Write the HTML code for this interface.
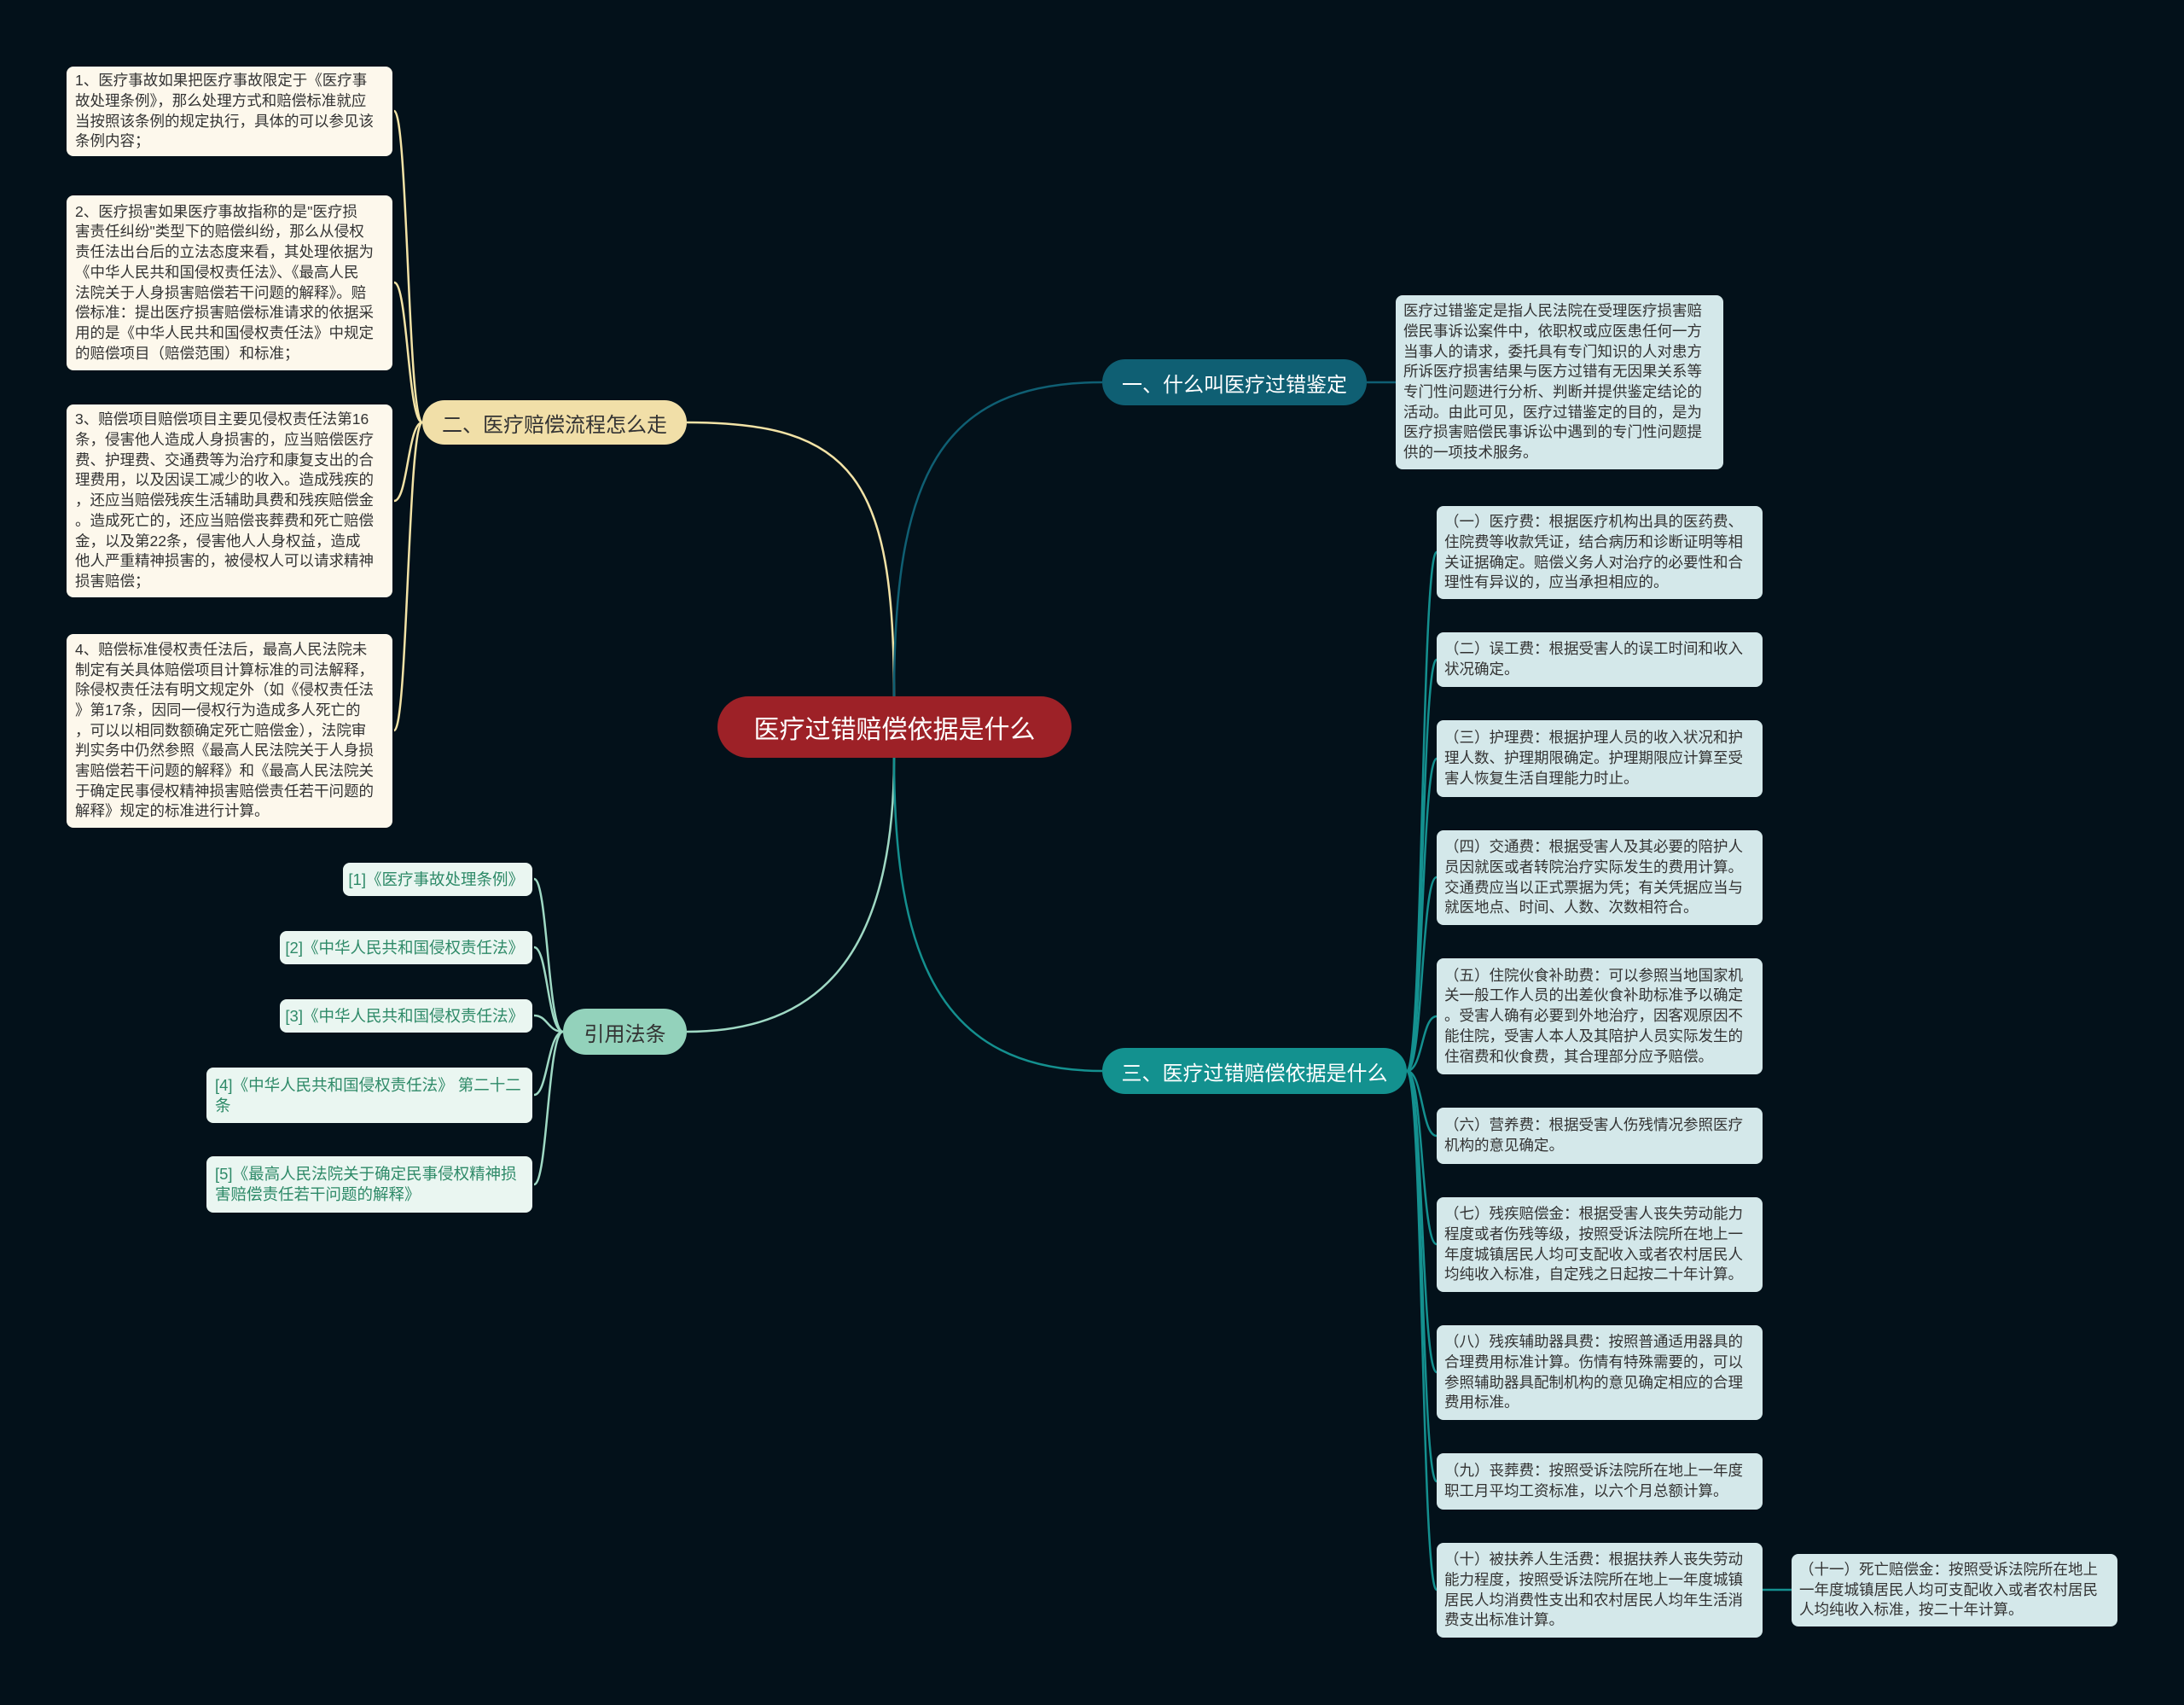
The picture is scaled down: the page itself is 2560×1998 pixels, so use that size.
<!DOCTYPE html>
<html><head><meta charset="utf-8">
<style>
html,body{margin:0;padding:0;}
body{width:2560px;height:1998px;background:#03111a;position:relative;overflow:hidden;font-family:"Liberation Sans","Noto Sans CJK SC",sans-serif;}
svg{position:absolute;left:0;top:0;}
.b{position:absolute;box-sizing:border-box;border-radius:8px;display:flex;flex-direction:column;justify-content:center;font-size:17.5px;line-height:23.7px;white-space:nowrap;overflow:hidden;}
.l{background:#fdf8ec;color:#333;padding:0 10px;}
.r{background:#d4e8ea;color:#333;padding:0 9px;}
.ref{background:#eaf6f1;color:#2e8a68;padding:0 10px;font-size:18.5px;align-items:flex-end;text-align:left;}
.ref.w{align-items:flex-start;}
.n{position:absolute;box-sizing:border-box;border-radius:30px;display:flex;align-items:center;justify-content:center;white-space:nowrap;}
</style></head><body>
<svg width="2560" height="1998">
<g fill="none" stroke-width="2.5">
<path d="M1048 816 C1048 560 1000 495 805 495" stroke="#f3e3a6"/>
<path d="M1048 816 C1048 560 1100 448 1292 448" stroke="#0f5f73"/>
<path d="M1048 888 C1048 1120 960 1209 805 1209" stroke="#9fd9c4"/>
<path d="M1048 888 C1048 1120 1100 1255 1292 1255" stroke="#14908f"/>
<path d="M1602 448 L1636 448" stroke="#0f5f73"/>
<g stroke="#f3e3a6">
<path d="M495 495 C478 495 478 130 462 130"/>
<path d="M495 495 C478 495 478 331 462 331"/>
<path d="M495 495 C478 495 478 587 462 587"/>
<path d="M495 495 C478 495 478 856 462 856"/>
</g>
<g stroke="#9fd9c4">
<path d="M660 1209 C642 1209 642 1030 626 1030"/>
<path d="M660 1209 C642 1209 642 1110 626 1110"/>
<path d="M660 1209 C642 1209 642 1190 626 1190"/>
<path d="M660 1209 C642 1209 642 1283 626 1283"/>
<path d="M660 1209 C642 1209 642 1388 626 1388"/>
</g>
<g stroke="#14908f">
<path d="M1649 1255 C1668 1255 1666 647 1684 647"/>
<path d="M1649 1255 C1668 1255 1666 773 1684 773"/>
<path d="M1649 1255 C1668 1255 1666 889 1684 889"/>
<path d="M1649 1255 C1668 1255 1666 1028 1684 1028"/>
<path d="M1649 1255 C1668 1255 1666 1191 1684 1191"/>
<path d="M1649 1255 C1668 1255 1666 1331 1684 1331"/>
<path d="M1649 1255 C1668 1255 1666 1458 1684 1458"/>
<path d="M1649 1255 C1668 1255 1666 1608 1684 1608"/>
<path d="M1649 1255 C1668 1255 1666 1736 1684 1736"/>
<path d="M1649 1255 C1668 1255 1666 1863 1684 1863"/>
<path d="M2066 1863 L2100 1863"/>
</g>
</g>
</svg>

<div class="n" style="left:841px;top:816px;width:415px;height:72px;background:#9d2127;color:#fff;font-size:30px;border-radius:36px;">医疗过错赔偿依据是什么</div>
<div class="n" style="left:1292px;top:421px;width:310px;height:54px;background:#0f5f73;color:#fff;font-size:24px;">一、什么叫医疗过错鉴定</div>
<div class="n" style="left:1292px;top:1228px;width:357px;height:54px;background:#13918f;color:#fff;font-size:24px;">三、医疗过错赔偿依据是什么</div>
<div class="n" style="left:495px;top:469px;width:310px;height:52px;background:#f1dfa8;color:#333;font-size:24px;">二、医疗赔偿流程怎么走</div>
<div class="n" style="left:660px;top:1182px;width:145px;height:54px;background:#93d2bb;color:#333;font-size:24px;">引用法条</div>

<div class="b l" style="left:78px;top:78px;width:382px;height:105px;">
<div>1、医疗事故如果把医疗事故限定于《医疗事</div><div>故处理条例》，那么处理方式和赔偿标准就应</div><div>当按照该条例的规定执行，具体的可以参见该</div><div>条例内容；</div></div>
<div class="b l" style="left:78px;top:229px;width:382px;height:205px;">
<div>2、医疗损害如果医疗事故指称的是"医疗损</div><div>害责任纠纷"类型下的赔偿纠纷，那么从侵权</div><div>责任法出台后的立法态度来看，其处理依据为</div><div>《中华人民共和国侵权责任法》、《最高人民</div><div>法院关于人身损害赔偿若干问题的解释》。赔</div><div>偿标准：提出医疗损害赔偿标准请求的依据采</div><div>用的是《中华人民共和国侵权责任法》中规定</div><div>的赔偿项目（赔偿范围）和标准；</div></div>
<div class="b l" style="left:78px;top:474px;width:382px;height:226px;">
<div>3、赔偿项目赔偿项目主要见侵权责任法第16</div><div>条，侵害他人造成人身损害的，应当赔偿医疗</div><div>费、护理费、交通费等为治疗和康复支出的合</div><div>理费用，以及因误工减少的收入。造成残疾的</div><div>，还应当赔偿残疾生活辅助具费和残疾赔偿金</div><div>。造成死亡的，还应当赔偿丧葬费和死亡赔偿</div><div>金，以及第22条，侵害他人人身权益，造成</div><div>他人严重精神损害的，被侵权人可以请求精神</div><div>损害赔偿；</div></div>
<div class="b l" style="left:78px;top:743px;width:382px;height:227px;">
<div>4、赔偿标准侵权责任法后，最高人民法院未</div><div>制定有关具体赔偿项目计算标准的司法解释，</div><div>除侵权责任法有明文规定外（如《侵权责任法</div><div>》第17条，因同一侵权行为造成多人死亡的</div><div>，可以以相同数额确定死亡赔偿金），法院审</div><div>判实务中仍然参照《最高人民法院关于人身损</div><div>害赔偿若干问题的解释》和《最高人民法院关</div><div>于确定民事侵权精神损害赔偿责任若干问题的</div><div>解释》规定的标准进行计算。</div></div>

<div class="b r" style="left:1636px;top:346px;width:384px;height:204px;">
<div>医疗过错鉴定是指人民法院在受理医疗损害赔</div><div>偿民事诉讼案件中，依职权或应医患任何一方</div><div>当事人的请求，委托具有专门知识的人对患方</div><div>所诉医疗损害结果与医方过错有无因果关系等</div><div>专门性问题进行分析、判断并提供鉴定结论的</div><div>活动。由此可见，医疗过错鉴定的目的，是为</div><div>医疗损害赔偿民事诉讼中遇到的专门性问题提</div><div>供的一项技术服务。</div></div>

<div class="b r" style="left:1684px;top:593px;width:382px;height:109px;">
<div>（一）医疗费：根据医疗机构出具的医药费、</div><div>住院费等收款凭证，结合病历和诊断证明等相</div><div>关证据确定。赔偿义务人对治疗的必要性和合</div><div>理性有异议的，应当承担相应的。</div></div>
<div class="b r" style="left:1684px;top:741px;width:382px;height:64px;">
<div>（二）误工费：根据受害人的误工时间和收入</div><div>状况确定。</div></div>
<div class="b r" style="left:1684px;top:844px;width:382px;height:90px;">
<div>（三）护理费：根据护理人员的收入状况和护</div><div>理人数、护理期限确定。护理期限应计算至受</div><div>害人恢复生活自理能力时止。</div></div>
<div class="b r" style="left:1684px;top:973px;width:382px;height:111px;">
<div>（四）交通费：根据受害人及其必要的陪护人</div><div>员因就医或者转院治疗实际发生的费用计算。</div><div>交通费应当以正式票据为凭；有关凭据应当与</div><div>就医地点、时间、人数、次数相符合。</div></div>
<div class="b r" style="left:1684px;top:1123px;width:382px;height:136px;">
<div>（五）住院伙食补助费：可以参照当地国家机</div><div>关一般工作人员的出差伙食补助标准予以确定</div><div>。受害人确有必要到外地治疗，因客观原因不</div><div>能住院，受害人本人及其陪护人员实际发生的</div><div>住宿费和伙食费，其合理部分应予赔偿。</div></div>
<div class="b r" style="left:1684px;top:1298px;width:382px;height:66px;">
<div>（六）营养费：根据受害人伤残情况参照医疗</div><div>机构的意见确定。</div></div>
<div class="b r" style="left:1684px;top:1403px;width:382px;height:111px;">
<div>（七）残疾赔偿金：根据受害人丧失劳动能力</div><div>程度或者伤残等级，按照受诉法院所在地上一</div><div>年度城镇居民人均可支配收入或者农村居民人</div><div>均纯收入标准，自定残之日起按二十年计算。</div></div>
<div class="b r" style="left:1684px;top:1553px;width:382px;height:111px;">
<div>（八）残疾辅助器具费：按照普通适用器具的</div><div>合理费用标准计算。伤情有特殊需要的，可以</div><div>参照辅助器具配制机构的意见确定相应的合理</div><div>费用标准。</div></div>
<div class="b r" style="left:1684px;top:1703px;width:382px;height:66px;">
<div>（九）丧葬费：按照受诉法院所在地上一年度</div><div>职工月平均工资标准，以六个月总额计算。</div></div>
<div class="b r" style="left:1684px;top:1808px;width:382px;height:111px;">
<div>（十）被扶养人生活费：根据扶养人丧失劳动</div><div>能力程度，按照受诉法院所在地上一年度城镇</div><div>居民人均消费性支出和农村居民人均年生活消</div><div>费支出标准计算。</div></div>
<div class="b r" style="left:2100px;top:1821px;width:382px;height:85px;">
<div>（十一）死亡赔偿金：按照受诉法院所在地上</div><div>一年度城镇居民人均可支配收入或者农村居民</div><div>人均纯收入标准，按二十年计算。</div></div>

<div class="b ref" style="left:402px;top:1011px;width:222px;height:39px;"><div>[1]《医疗事故处理条例》</div></div>
<div class="b ref" style="left:328px;top:1091px;width:296px;height:39px;"><div>[2]《中华人民共和国侵权责任法》</div></div>
<div class="b ref" style="left:328px;top:1171px;width:296px;height:39px;"><div>[3]《中华人民共和国侵权责任法》</div></div>
<div class="b ref w" style="left:242px;top:1251px;width:382px;height:65px;"><div>[4]《中华人民共和国侵权责任法》 第二十二</div><div>条</div></div>
<div class="b ref w" style="left:242px;top:1355px;width:382px;height:66px;"><div>[5]《最高人民法院关于确定民事侵权精神损</div><div>害赔偿责任若干问题的解释》</div></div>
</body></html>
